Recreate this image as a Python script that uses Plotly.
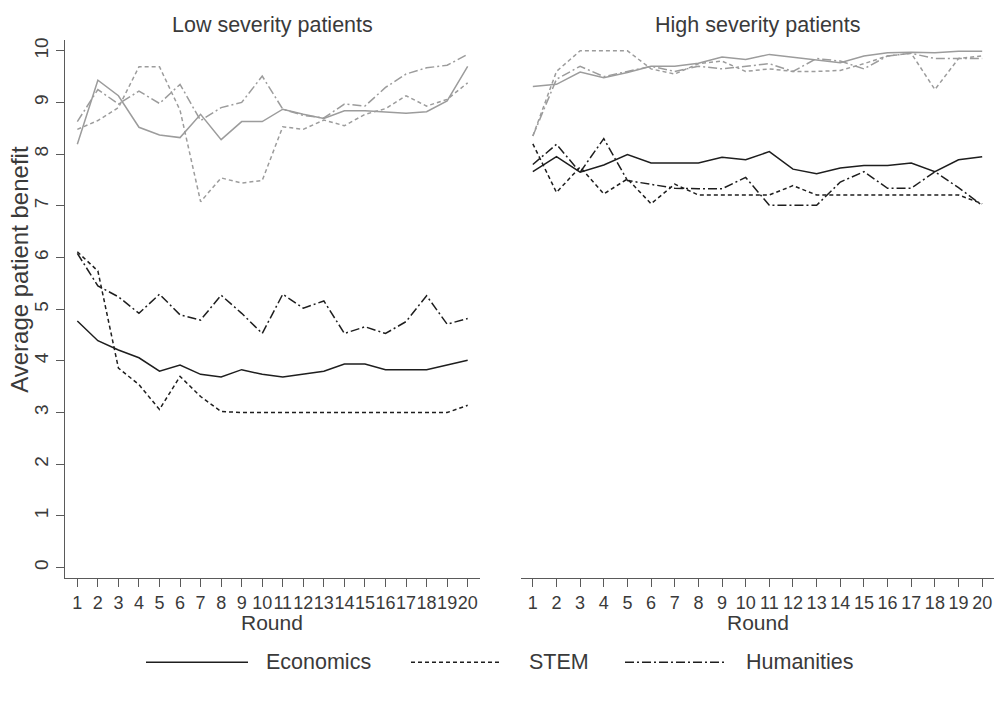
import plotly.graph_objects as go

rounds = list(range(1, 21))

# Low severity patients (black = legend series, gray = companion series)
econ_low = [4.77, 4.39, 4.21, 4.06, 3.80, 3.92, 3.74, 3.69, 3.83, 3.74, 3.69, 3.74, 3.80, 3.94, 3.94, 3.83, 3.83, 3.83, 3.92, 4.01]
stem_low = [6.11, 5.74, 3.86, 3.54, 3.06, 3.70, 3.31, 3.02, 3.00, 3.00, 3.00, 3.00, 3.00, 3.00, 3.00, 3.00, 3.00, 3.00, 3.00, 3.14]
hum_low = [6.08, 5.45, 5.24, 4.92, 5.29, 4.89, 4.79, 5.27, 4.92, 4.53, 5.29, 5.02, 5.16, 4.53, 4.66, 4.53, 4.76, 5.26, 4.71, 4.82]
econ_low_g = [8.19, 9.43, 9.13, 8.52, 8.37, 8.32, 8.77, 8.28, 8.63, 8.63, 8.87, 8.77, 8.69, 8.84, 8.84, 8.81, 8.79, 8.82, 9.03, 9.70]
stem_low_g = [8.48, 8.65, 8.90, 9.69, 9.69, 8.85, 7.08, 7.54, 7.44, 7.49, 8.53, 8.48, 8.66, 8.55, 8.77, 8.88, 9.13, 8.93, 9.06, 9.38]
hum_low_g = [8.63, 9.25, 8.97, 9.22, 8.98, 9.35, 8.65, 8.90, 9.00, 9.51, 8.87, 8.75, 8.70, 8.97, 8.93, 9.29, 9.55, 9.67, 9.72, 9.93]

# High severity patients
econ_high = [7.66, 7.95, 7.65, 7.79, 7.99, 7.83, 7.83, 7.83, 7.94, 7.89, 8.05, 7.71, 7.62, 7.73, 7.78, 7.78, 7.83, 7.66, 7.89, 7.95]
stem_high = [8.20, 7.26, 7.75, 7.23, 7.52, 7.04, 7.42, 7.21, 7.21, 7.21, 7.21, 7.39, 7.21, 7.21, 7.21, 7.21, 7.21, 7.21, 7.21, 7.04]
hum_high = [7.80, 8.19, 7.65, 8.30, 7.49, 7.42, 7.34, 7.33, 7.33, 7.55, 7.01, 7.01, 7.01, 7.46, 7.66, 7.34, 7.34, 7.66, 7.35, 7.01]
econ_high_g = [9.31, 9.35, 9.59, 9.48, 9.58, 9.70, 9.70, 9.76, 9.88, 9.83, 9.93, 9.88, 9.83, 9.77, 9.90, 9.96, 9.97, 9.96, 9.99, 9.99]
stem_high_g = [8.35, 9.60, 10.0, 10.0, 10.0, 9.65, 9.55, 9.75, 9.80, 9.60, 9.65, 9.60, 9.60, 9.62, 9.75, 9.90, 9.95, 9.25, 9.85, 9.90]
hum_high_g = [8.35, 9.45, 9.70, 9.50, 9.60, 9.70, 9.60, 9.70, 9.65, 9.70, 9.75, 9.60, 9.85, 9.80, 9.65, 9.90, 9.95, 9.85, 9.85, 9.85]

series_names = ["Economics", "STEM", "Humanities"]
y_ticks = list(range(0, 11))
panel_titles = ["Low severity patients", "High severity patients"]

BLACK = "#1e1e1e"
GRAY = "#9c9c9c"
TXT = "#3a3a3a"
AX = "#5a5a5a"
FONT = "Liberation Sans, Arial, sans-serif"
DASHES = ["solid", "4px,3px", "9px,3px,2px,3px"]

W, H = 994, 703

fig = go.Figure()

panels = [
    ("x", "y", [econ_low_g, stem_low_g, hum_low_g], [econ_low, stem_low, hum_low]),
    ("x2", "y2", [econ_high_g, stem_high_g, hum_high_g], [econ_high, stem_high, hum_high]),
]
for xa, ya, grays, blacks in panels:
    for vals, dash in zip(grays, DASHES):
        fig.add_trace(go.Scatter(x=rounds, y=vals, mode="lines", xaxis=xa, yaxis=ya,
                                 line=dict(color=GRAY, width=1.5, dash=dash), showlegend=False))
    for vals, dash, nm in zip(blacks, DASHES, series_names):
        fig.add_trace(go.Scatter(x=rounds, y=vals, mode="lines", xaxis=xa, yaxis=ya, name=nm,
                                 line=dict(color=BLACK, width=1.5, dash=dash), showlegend=False))

def px_x(p):
    return p / W

def px_y(p):
    return (H - p) / H

ydom = [px_y(577.4), px_y(37.6)]
xcommon = dict(tickmode="array", tickvals=rounds, ticktext=[str(r) for r in rounds],
               ticks="outside", ticklen=8, tickcolor=AX, tickwidth=1, tickangle=0,
               showline=True, linecolor=AX, linewidth=1.3, showgrid=False, zeroline=False,
               tickfont=dict(family=FONT, size=18, color=TXT), fixedrange=True)

fig.update_layout(
    width=W, height=H,
    margin=dict(l=0, r=0, t=0, b=0),
    paper_bgcolor="white", plot_bgcolor="white",
    showlegend=False,
    xaxis=dict(domain=[px_x(65), px_x(480)], range=[0.4, 20.6], anchor="y", **xcommon),
    xaxis2=dict(domain=[px_x(521), 1.0], range=[0.5, 20.5], anchor="y2", **xcommon),
    yaxis=dict(domain=ydom, range=[-0.2, 10.2], anchor="x", tickmode="array", tickvals=y_ticks,
               ticks="outside", ticklen=8, tickcolor=AX, showline=True, linecolor=AX, linewidth=1.3,
               showgrid=False, zeroline=False, tickangle=-90, fixedrange=True,
               tickfont=dict(family=FONT, size=19, color=TXT)),
    yaxis2=dict(domain=ydom, range=[-0.2, 10.2], anchor="x2", visible=False, fixedrange=True),
)

def note(text, x, y, size=21.5, xanchor="center", angle=0):
    return dict(text=text, x=px_x(x), y=px_y(y), xref="paper", yref="paper",
                xanchor=xanchor, yanchor="middle", showarrow=False, textangle=angle,
                font=dict(family=FONT, size=size, color=TXT))

ann = [note(panel_titles[0], 272, 22), note(panel_titles[1], 757.5, 22)]
for cx in (272, 757.5):
    ann.append(note("Round", cx, 622, size=21))
ann.append(note("Average patient benefit", 20, 268, size=24, angle=-90))

# manual legend
legend_items = [(146, 248, 264), (411, 501, 527), (625, 727, 744)]
shapes = []
for (x0, x1, tx), nm, dash in zip(legend_items, series_names, DASHES):
    shapes.append(dict(type="line", xref="paper", yref="paper", x0=px_x(x0), x1=px_x(x1),
                       y0=px_y(662), y1=px_y(662), line=dict(color=BLACK, width=1.5, dash=dash)))
    ann.append(note(nm, tx, 662, xanchor="left"))

fig.update_layout(annotations=ann, shapes=shapes)
fig.write_html("out.html", config={"displayModeBar": False},
               post_script="document.body.style.margin='0';document.body.style.overflow='hidden';")
